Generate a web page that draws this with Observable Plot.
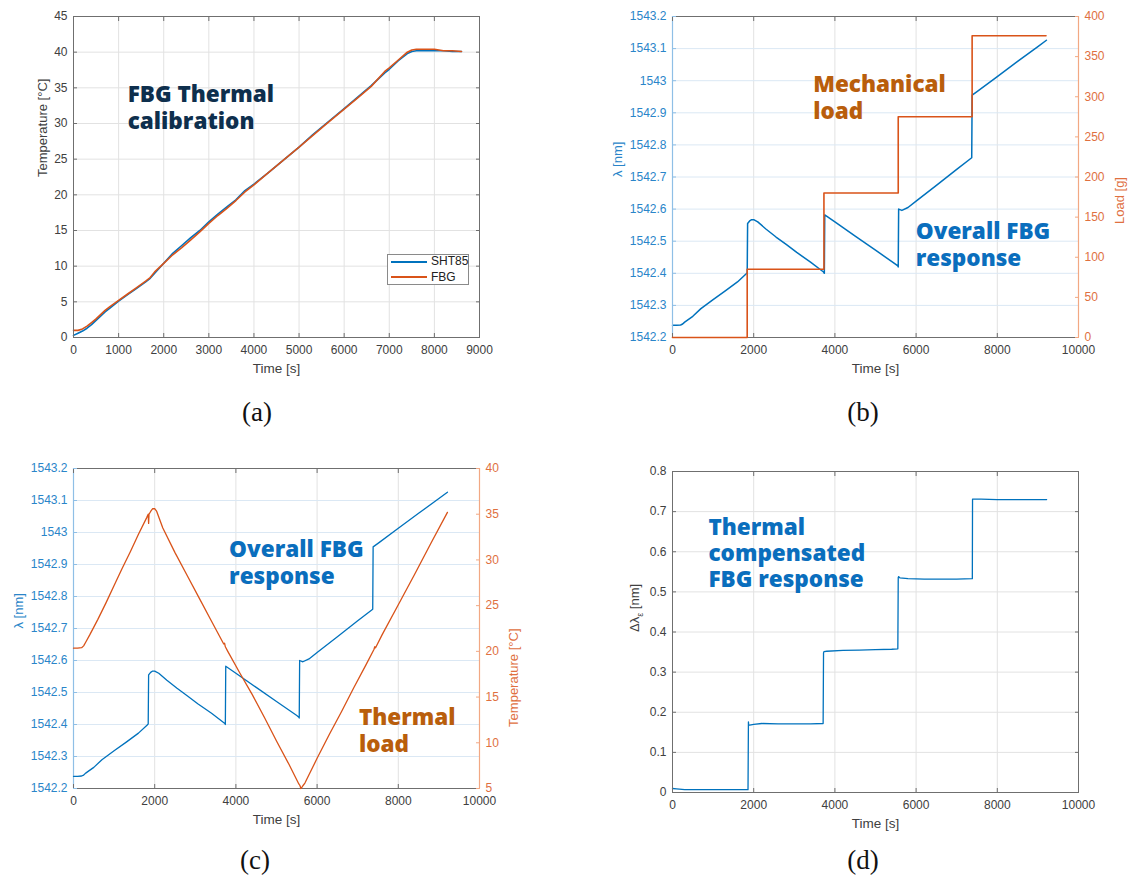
<!DOCTYPE html>
<html><head><meta charset="utf-8">
<script src="https://cdn.jsdelivr.net/npm/d3@7"></script>
<script src="https://cdn.jsdelivr.net/npm/@observablehq/plot@0.6"></script>
<style>
body{margin:0;background:#fff;}
#fig{position:relative;width:1132px;height:877px;background:#fff;overflow:hidden;}
.panel{position:absolute;}
.panel svg{position:absolute;left:0;top:0;background:transparent;overflow:visible;}
.plabel{position:absolute;font-family:"Liberation Serif","DejaVu Serif",serif;font-size:27px;color:#111;transform:translate(-50%,-50%);white-space:nowrap;}
</style></head><body><div id="fig"></div>
<script>
// ---------------- DATA ----------------
// (a) thermal calibration
const calTime = [0,100,200,300,400,500,600,700,800,1000,1200,1400,1600,1700,1800,2000,2200,2400,2600,2800,3000,3200,3400,3600,3800,4000,4300,4600,5000,5300,5600,6000,6300,6600,6900,7000,7200,7400,7500,7600,7800,8000,8200,8400,8600];
const tempSHT85 = [0.3,0.6,0.9,1.3,1.8,2.4,3.0,3.6,4.1,5.1,6.0,6.9,7.8,8.3,9.0,10.4,11.8,12.9,14.0,15.0,16.2,17.3,18.3,19.3,20.6,21.5,23.0,24.6,26.7,28.4,30.0,32.1,33.7,35.3,37.1,37.6,38.8,39.8,40.1,40.2,40.2,40.2,40.2,40.1,40.1];
const tempFBG   = [1.0,1.0,1.2,1.6,2.1,2.6,3.2,3.8,4.3,5.2,6.1,7.0,7.9,8.4,9.2,10.4,11.6,12.6,13.7,14.8,16.0,17.1,18.1,19.2,20.4,21.4,23.0,24.6,26.7,28.3,29.9,32.0,33.6,35.2,37.3,37.8,38.9,40.0,40.3,40.4,40.4,40.4,40.2,40.2,40.1];
const calSeries = ["SHT85","FBG"];
const calXTicks = [0,1000,2000,3000,4000,5000,6000,7000,8000,9000];
const calYTicks = [0,5,10,15,20,25,30,35,40,45];

// (b),(c) overall FBG wavelength
const lamTime = [0,100,200,250,300,500,700,1000,1300,1600,1830,1840,1850,1900,1950,2000,2100,2300,2550,2800,3060,3400,3720,3740,3750,4000,4500,5000,5500,5550,5560,5570,5650,5800,6000,6500,7000,7370,7380,7500,8000,8500,9000,9210];
const lambda  = [1542.238,1542.238,1542.239,1542.242,1542.248,1542.266,1542.290,1542.318,1542.345,1542.373,1542.400,1542.402,1542.555,1542.563,1542.567,1542.567,1542.560,1542.538,1542.513,1542.490,1542.465,1542.435,1542.404,1542.400,1542.582,1542.560,1542.516,1542.472,1542.428,1542.423,1542.420,1542.600,1542.596,1542.605,1542.625,1542.674,1542.724,1542.760,1542.955,1542.966,1543.013,1543.060,1543.106,1543.126];
// (b) mechanical load steps
const loadTime = [0,1840,3730,5560,7380,9200];
const loadG    = [0,85,180,275,376,376];
// (c) thermal load
const tempTime = [0,100,200,250,300,400,600,800,1000,1200,1400,1600,1800,1840,1850,1860,1900,1950,2000,2050,2200,2500,2800,3100,3400,3700,3720,3740,3800,4100,4400,4700,5000,5300,5550,5580,5600,5620,5650,5700,5800,6000,6300,6600,6900,7200,7400,7420,7440,7600,8000,8400,8800,9210];
const tempLoad = [20.35,20.35,20.4,20.6,21.0,21.8,23.5,25.3,27.2,29.1,30.9,32.8,34.6,35.0,34.0,35.0,35.3,35.6,35.6,35.3,33.5,30.8,28.3,25.8,23.3,20.8,20.9,20.5,20.0,17.6,15.3,12.8,10.2,7.7,5.5,5.3,5.0,5.1,5.3,5.6,6.5,8.3,10.9,13.4,16.0,18.5,20.2,20.5,20.4,21.8,25.1,28.4,31.8,35.2];
// (d) thermally compensated response
const compTime = [0,100,300,600,1000,1500,1860,1870,1875,1880,1900,2000,2200,2600,3000,3400,3710,3720,3730,3800,4200,4600,5000,5400,5550,5560,5570,5600,5800,6200,6600,7000,7385,7390,7400,7600,8000,8500,9000,9215];
const dLambda  = [0.010,0.009,0.007,0.007,0.007,0.007,0.007,0.176,0.170,0.168,0.168,0.170,0.172,0.171,0.171,0.171,0.172,0.348,0.351,0.352,0.354,0.355,0.356,0.357,0.358,0.536,0.538,0.535,0.533,0.532,0.532,0.532,0.533,0.731,0.731,0.731,0.730,0.730,0.730,0.730];

const timeTicks = [0,2000,4000,6000,8000,10000];
const lamTicks  = [1542.2,1542.3,1542.4,1542.5,1542.6,1542.7,1542.8,1542.9,1543.0,1543.1,1543.2];
const loadTicks = [0,50,100,150,200,250,300,350,400];
const tempTicks = [5,10,15,20,25,30,35,40];
const compTicks = [0,0.1,0.2,0.3,0.4,0.5,0.6,0.7,0.8];
const panelLabels = ["(a)","(b)","(c)","(d)"];

// ---------------- STYLE ----------------
const BLUE = "#0072BD", ORANGE = "#D95319";
const AXF = "Liberation Sans, Arial, Helvetica, sans-serif";
const ANF = "Open Sans, Lato, sans-serif";
const GRID = "#e2e2e2", FRAME = "#6f6f6f", TXT = "#404040";
const LBLUE = "#2a85c9", LBLUE_AX = "#8fbfe6", RORANGE = "#e0703f", RORANGE_AX = "#f2a883";
const fig = document.getElementById("fig");

const calData = calSeries.flatMap((s, k) => calTime.map((t, i) => ({t, v: (k ? tempFBG : tempSHT85)[i], s})));
const lamData = lamTime.map((t, i) => ({t, v: lambda[i]}));
const loadData = loadTime.map((t, i) => ({t, v: loadG[i]}));
const tempData = tempTime.map((t, i) => ({t, v: tempLoad[i]}));
const compData = compTime.map((t, i) => ({t, v: dLambda[i]}));

const fmt1 = d => (+d.toFixed(1)).toString();
const base = (o) => Object.assign({style: {background: "transparent", fontFamily: AXF, fontSize: "12px", color: TXT}}, o);

function place(svg, left, top, w, h) {
  const d = document.createElement("div");
  d.className = "panel";
  d.style.left = left + "px"; d.style.top = top + "px";
  d.style.width = w + "px"; d.style.height = h + "px";
  d.appendChild(svg); fig.appendChild(d);
  return d;
}
function xTicksMarks(ticks) {
  return [
    Plot.axisX({anchor: "bottom", ticks, tickSize: -4, tickPadding: 12, tickFormat: "d", label: null, stroke: FRAME, fill: TXT}),
    Plot.axisX({anchor: "top", ticks, tickSize: -4, tickFormat: () => "", label: null, stroke: FRAME})
  ];
}
function xLabel() {
  return Plot.text(["Time [s]"], {frameAnchor: "bottom", dy: 35, fontSize: 13.5, fill: TXT, fontFamily: AXF});
}
function yLabelLeft(txt, dx, color) {
  return Plot.text([txt], {frameAnchor: "left", dx: -dx, rotate: -90, fontSize: 13, fill: color, fontFamily: AXF});
}
function yLabelRight(txt, dx, color) {
  return Plot.text([txt], {frameAnchor: "right", dx: dx, rotate: -90, fontSize: 13, fill: color, fontFamily: AXF});
}
function note(txt, x, y, color, lh) {
  return Plot.text([txt], {x: () => x, y: () => y, text: d => d, textAnchor: "start", lineAnchor: "top", lineHeight: lh,
    fontSize: 22.5, fontWeight: 800, fill: color, fontFamily: ANF});
}

// ---------------- (a) ----------------
{
  const W = 500, H = 385;
  const svg = Plot.plot(base({
    width: W, height: H, marginLeft: 73, marginRight: 21, marginTop: 16, marginBottom: 48,
    x: {domain: [0, 9000]}, y: {domain: [0, 45]},
    color: {domain: calSeries, range: [BLUE, ORANGE]},
    marks: [
      Plot.gridX({ticks: calXTicks, stroke: GRID, strokeOpacity: 1}),
      Plot.gridY({ticks: calYTicks, stroke: GRID, strokeOpacity: 1}),
      Plot.line(calData, {x: "t", y: "v", z: "s", stroke: "s", strokeWidth: 1.6}),
      Plot.frame({stroke: FRAME}),
      ...xTicksMarks(calXTicks),
      Plot.axisY({anchor: "left", ticks: calYTicks, tickSize: -4, tickPadding: 10, label: null, stroke: FRAME, fill: TXT}),
      Plot.axisY({anchor: "right", ticks: calYTicks, tickSize: -4, tickFormat: () => "", label: null, stroke: FRAME}),
      xLabel(),
      yLabelLeft("Temperature [°C]", 31, TXT),
      note("FBG Thermal\ncalibration", 1200, 35.75, "#0e2f4d", 1.22)
    ]
  }));
  place(svg, 0, 0, W, H);
  // legend (box inside plot area)
  const lg = document.createElement("div");
  lg.style.cssText = "position:absolute;left:387px;top:254px;width:82px;height:31px;border:1px solid #8a8a8a;background:#fff;font-family:" + AXF + ";font-size:12px;color:#222;box-sizing:border-box;";
  calSeries.forEach((s, k) => {
    const r = document.createElement("div");
    r.style.cssText = "position:absolute;left:3px;top:" + (-1 + k * 15.5) + "px;height:15px;line-height:15px;white-space:nowrap;";
    r.innerHTML = '<span style="display:inline-block;width:36px;height:0;border-top:2px solid ' + (k ? ORANGE : BLUE) + ';vertical-align:middle;margin-right:4px"></span>' + s;
    lg.appendChild(r);
  });
  fig.appendChild(lg);
}

// ---------------- (b) ----------------
{
  const W = 552, H = 385, m = {marginLeft: 92, marginRight: 54, marginTop: 16, marginBottom: 48};
  const left = Plot.plot(base({
    width: W, height: H, ...m,
    x: {domain: [0, 10000]}, y: {domain: [1542.2, 1543.2]},
    marks: [
      Plot.gridX({ticks: timeTicks, stroke: GRID, strokeOpacity: 1}),
      Plot.gridY({ticks: lamTicks, stroke: "#dbe8f4", strokeOpacity: 1}),
      Plot.line(lamData, {x: "t", y: "v", stroke: BLUE, strokeWidth: 1.5}),
      Plot.frame({stroke: FRAME}),
      Plot.ruleX([0], {stroke: LBLUE_AX, strokeWidth: 1.2}),
      ...xTicksMarks(timeTicks),
      Plot.axisY({anchor: "left", ticks: lamTicks, tickSize: -4, tickPadding: 10, tickFormat: fmt1, label: null, stroke: LBLUE_AX, fill: LBLUE}),
      xLabel(),
      yLabelLeft("λ [nm]", 55, LBLUE),
      note("Mechanical\nload", 3464, 1543.026, "#b95e0c", 1.2),
      note("Overall FBG\nresponse", 5991, 1542.566, "#0a6ebd", 1.2)
    ]
  }));
  const right = Plot.plot(base({
    width: W, height: H, ...m,
    x: {domain: [0, 10000], axis: null}, y: {domain: [0, 400]},
    marks: [
      Plot.line(loadData, {x: "t", y: "v", stroke: ORANGE, strokeWidth: 1.6, curve: "step-after"}),
      Plot.ruleX([10000], {stroke: RORANGE_AX, strokeWidth: 1.2}),
      Plot.axisY({anchor: "right", ticks: loadTicks, tickSize: -4, tickPadding: 10, label: null, stroke: RORANGE_AX, fill: RORANGE}),
      yLabelRight("Load [g]", 41, RORANGE)
    ]
  }));
  const d = place(left, 580, 0, W, H);
  d.appendChild(right);
}

// ---------------- (c) ----------------
{
  const W = 540, H = 400, m = {marginLeft: 73, marginRight: 61, marginTop: 28, marginBottom: 52};
  const left = Plot.plot(base({
    width: W, height: H, ...m,
    x: {domain: [0, 10000]}, y: {domain: [1542.2, 1543.2]},
    marks: [
      Plot.gridX({ticks: timeTicks, stroke: GRID, strokeOpacity: 1}),
      Plot.gridY({ticks: lamTicks, stroke: "#dbe8f4", strokeOpacity: 1}),
      Plot.frame({stroke: FRAME}),
      Plot.ruleX([0], {stroke: LBLUE_AX, strokeWidth: 1.2}),
      ...xTicksMarks(timeTicks),
      Plot.axisY({anchor: "left", ticks: lamTicks, tickSize: -4, tickPadding: 10, tickFormat: fmt1, label: null, stroke: LBLUE_AX, fill: LBLUE}),
      xLabel(),
      yLabelLeft("λ [nm]", 55, LBLUE),
      note("Overall FBG\nresponse", 3833, 1542.985, "#0a6ebd", 1.22),
      note("Thermal\nload", 7030, 1542.46, "#b95e0c", 1.22)
    ]
  }));
  const right = Plot.plot(base({
    width: W, height: H, ...m,
    x: {domain: [0, 10000], axis: null}, y: {domain: [5, 40]},
    marks: [
      Plot.line(tempData, {x: "t", y: "v", stroke: ORANGE, strokeWidth: 1.3}),
      Plot.ruleX([10000], {stroke: RORANGE_AX, strokeWidth: 1.2}),
      Plot.axisY({anchor: "right", ticks: tempTicks, tickSize: -4, tickPadding: 10, label: null, stroke: RORANGE_AX, fill: RORANGE}),
      yLabelRight("Temperature [°C]", 34, RORANGE)
    ]
  }));
  const lamLine = Plot.plot(base({
    width: W, height: H, ...m,
    x: {domain: [0, 10000], axis: null}, y: {domain: [1542.2, 1543.2], axis: null},
    marks: [Plot.line(lamData, {x: "t", y: "v", stroke: BLUE, strokeWidth: 1.3})]
  }));
  const d = place(left, 0, 440, W, H);
  d.appendChild(lamLine);
  d.appendChild(right);
}

// ---------------- (d) ----------------
{
  const W = 552, H = 400;
  const svg = Plot.plot(base({
    width: W, height: H, marginLeft: 92, marginRight: 54, marginTop: 31, marginBottom: 48,
    x: {domain: [0, 10000]}, y: {domain: [0, 0.8]},
    marks: [
      Plot.gridX({ticks: timeTicks, stroke: GRID, strokeOpacity: 1}),
      Plot.gridY({ticks: compTicks, stroke: GRID, strokeOpacity: 1}),
      Plot.line(compData, {x: "t", y: "v", stroke: BLUE, strokeWidth: 1.3}),
      Plot.frame({stroke: FRAME}),
      ...xTicksMarks(timeTicks),
      Plot.axisY({anchor: "left", ticks: compTicks, tickSize: -4, tickPadding: 10, tickFormat: fmt1, label: null, stroke: FRAME, fill: TXT}),
      Plot.axisY({anchor: "right", ticks: compTicks, tickSize: -4, tickFormat: () => "", label: null, stroke: FRAME}),
      xLabel(),
      yLabelLeft("Δλε [nm]", 38, TXT),
      note("Thermal\ncompensated\nFBG response", 885, 0.688, "#0a6ebd", 1.16)
    ]
  }));
  svg.querySelectorAll("text").forEach(t => {
    if (t.textContent === "Δλε [nm]") t.innerHTML = 'Δλ<tspan dy="4" font-size="9">ε</tspan><tspan dy="-4"> [nm]</tspan>';
  });
  place(svg, 580, 440, W, H);
}

// panel labels
[[257, 412], [863, 412], [255, 860], [863, 860]].forEach(([x, y], i) => {
  const l = document.createElement("div");
  l.className = "plabel"; l.style.left = x + "px"; l.style.top = y + "px";
  l.textContent = panelLabels[i];
  fig.appendChild(l);
});
</script></body></html>
